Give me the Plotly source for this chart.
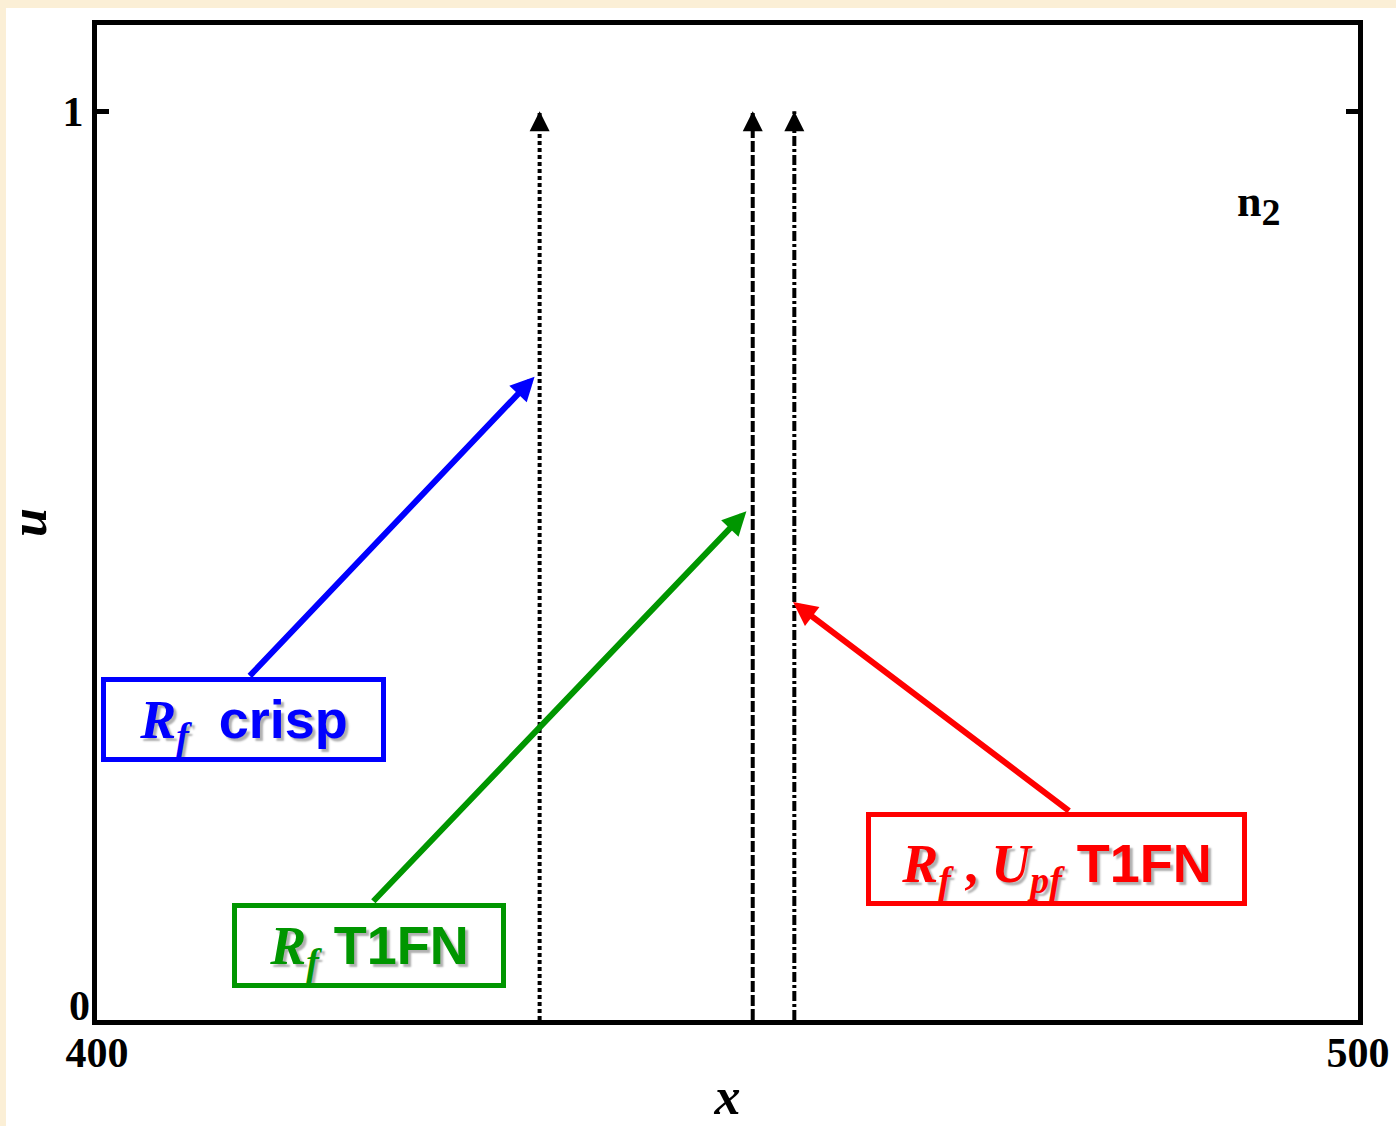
import plotly.graph_objects as go

# ---------------- data ----------------
x_range = [400, 500]
u_range = [0, 1.095]
x_ticks = [400, 500]
u_ticks_upper = [1]
u_ticks_lower = [0]

line_x = [435.1, 452.0, 455.3]          # crisp, T1FN, Upf T1FN
line_u_start = [0, 0, 0]
line_u_end = [1, 1, 1]
line_dash = ["4px,3px", "11px,3px", "10px,3px,3px,3px"]
line_axis = ["y2", "y", "y"]

label_texts = [
    "<span style=\"font-family:'Liberation Serif'\"><i>R</i><sub><i>f</i></sub></span>\u00a0\u00a0crisp",
    "<span style=\"font-family:'Liberation Serif'\"><i>R</i><sub><i>f</i></sub></span> T1FN",
    "<span style=\"font-family:'Liberation Serif'\"><i>R</i><sub><i>f</i></sub> , <i>U</i><sub><i>pf</i></sub></span> T1FN",
]
label_colors = ["#0000FF", "#009600", "#FF0000"]
label_x = [411.6, 421.6, 476.1]
label_u = [0.331, 0.082, 0.177]
label_w = [275, 264, 371]
label_h = [75, 75, 84]

arrow_tail_x = [412.0, 421.8, 477.2]
arrow_tail_u = [0.377, 0.129, 0.229]
arrow_tip_x = [434.7, 451.5, 455.2]
arrow_tip_u = [0.708, 0.560, 0.460]

panel_label = "n<sub><span style='font-size:38px'>2</span></sub>"
panel_x, panel_u = 492.1, 0.897

# ---------------- figure ----------------
fig = go.Figure()

for lx, u0, u1, d, ya in zip(line_x, line_u_start, line_u_end, line_dash, line_axis):
    fig.add_trace(go.Scatter(x=[lx, lx], y=[u0, u1], mode="lines", yaxis=ya,
                             line=dict(color="black", width=4, dash=d),
                             showlegend=False, hoverinfo="skip"))

annotations = []
# arrowheads at the top of vertical lines
for lx, u1 in zip(line_x, line_u_end):
    annotations.append(dict(x=lx, y=u1, ax=lx, ay=u1 - 0.015, xref="x", yref="y",
                            axref="x", ayref="y", text="", showarrow=True,
                            arrowhead=2, arrowwidth=4, arrowsize=1.0, arrowcolor="black"))

# coloured arrows
for tx, tu, hx, hu, c in zip(arrow_tail_x, arrow_tail_u, arrow_tip_x, arrow_tip_u, label_colors):
    annotations.append(dict(x=hx, y=hu, ax=tx, ay=tu, xref="x", yref="y",
                            axref="x", ayref="y", text="", showarrow=True,
                            arrowhead=2, arrowwidth=6, arrowsize=0.8, arrowcolor=c))

# labelled boxes
for t, c, lx, lu, w, h in zip(label_texts, label_colors, label_x, label_u, label_w, label_h):
    annotations.append(dict(x=lx, y=lu, xref="x", yref="y", text=t, showarrow=False,
                            xanchor="center", yanchor="middle", width=w, height=h,
                            bordercolor=c, borderwidth=5, borderpad=0, align="center",
                            valign="bottom",
                            font=dict(family="Liberation Sans", size=54, color=c,
                                      weight="bold", shadow="3px 3px 2px #b0b0b0")))

annotations.append(dict(x=panel_x, y=panel_u, xref="x", yref="y", text=panel_label,
                        showarrow=False, xanchor="center", yanchor="middle",
                        font=dict(family="Liberation Serif", size=44, color="black",
                                  weight="bold")))

tick_font = dict(family="Liberation Serif", size=42, color="black", weight="bold")
title_font = dict(family="Liberation Serif", size=52, color="black", weight="bold",
                  style="italic")

fig.update_layout(
    width=1396, height=1126,
    margin=dict(l=97, r=38, t=25, b=106, pad=0),
    paper_bgcolor="#FBEFD6",
    plot_bgcolor="white",
    annotations=annotations,
    shapes=[dict(type="rect", xref="paper", yref="paper", x0=-0.0722, x1=1.06,
                 y0=-0.13, y1=1.0171, fillcolor="white", line_width=0, layer="below")],
    xaxis=dict(range=x_range, tickvals=x_ticks, ticktext=[str(v) for v in x_ticks],
               showgrid=False, zeroline=False, showline=True, linecolor="black",
               linewidth=5, mirror=True, ticks="inside", ticklen=12, tickwidth=5,
               tickcolor="black", tickfont=tick_font, automargin=False,
               ticklabelstandoff=-8,
               title=dict(text="x", font=title_font, standoff=4)),
    yaxis=dict(range=u_range, tickvals=u_ticks_upper,
               ticktext=[str(v) for v in u_ticks_upper],
               showgrid=False, zeroline=False, showline=True, linecolor="black",
               linewidth=5, mirror="ticks", ticks="inside", ticklen=12, tickwidth=5,
               tickcolor="black", tickfont=tick_font, automargin=False,
               title=dict(text="u", font=title_font, standoff=20)),
    yaxis2=dict(range=u_range, overlaying="y", side="left", matches="y",
                tickvals=u_ticks_lower, ticktext=[str(v) for v in u_ticks_lower],
                showgrid=False, zeroline=False, showline=False, ticks="",
                tickfont=tick_font, ticklabelshift=-15, ticklabelstandoff=6,
                automargin=False),
)

fig.write_html("out.html")
